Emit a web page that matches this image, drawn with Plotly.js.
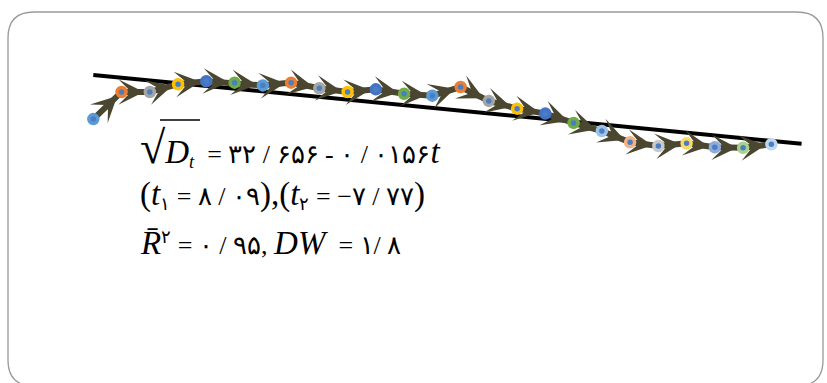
<!DOCTYPE html>
<html>
<head>
<meta charset="utf-8">
<script src="https://cdn.plot.ly/plotly-3.0.1.min.js"></script>
<style>html,body{margin:0;padding:0;background:#fff}#chart{width:827px;height:383px}</style>
</head>
<body>
<div id="chart"></div>
<script>
// time index
var t = [1,2,3,4,5,6,7,8,9,10,11,12,13,14,15,16,17,18,19,20,21,22,23,24,25];
// sqrt(D_t) values
var sqrtD = [32.390,32.544,32.544,32.588,32.605,32.597,32.581,32.597,32.565,32.544,
             32.559,32.534,32.523,32.572,32.493,32.449,32.421,32.368,32.322,32.258,
             32.237,32.252,32.230,32.227,32.247];
// regression: sqrt(D_t) = 32.656 - 0.0156 t
var intercept = 32.656;
var slope = -0.0156;
var lineT = [1, 26.07];
// marker ring colours
var ringColors = ['#5B9BD5','#ED7D31','#A5A5A5','#FFC000','#4472C4','#70AD47',
                  '#5B9BD5','#ED7D31','#A5A5A5','#FFC000','#4472C4','#70AD47',
                  '#5B9BD5','#ED7D31','#A5A5A5','#FFC000','#4472C4','#70AD47',
                  '#9DC3E6','#F4B183','#C9C9C9','#FFD966','#8FAADC','#A9D18E','#BDD7EE'];
// equation texts
var BIG = '<span style="font-size:33px">';
var eqLines = [
  '<span style="font-size:46px">√</span>' + BIG + '<i>D</i></span><sub><i>t</i></sub>  = ۳۲ / ۶۵۶ - ۰ / ۰۱۵۶' + BIG + '<i>t</i></span>',
  BIG + '(<i>t</i></span><sub>۱</sub> = ۸ / ۰۹' + BIG + '),(<i>t</i></span><sub>۲</sub> = −۷ / ۷۷' + BIG + ')</span>',
  BIG + '<i>R̄</i></span><sup>۲</sup> = ۰ / ۹۵, ' + BIG + '<i>DW</i></span>  = ۱/ ۸'
];

var regY = lineT.map(function(x){return intercept + slope*x;});
var olive = '#4A4630';

var traces = [
  {x: lineT, y: regY, mode: 'lines', line: {color: '#000', width: 4}, hoverinfo: 'skip', showlegend: false},
  {x: t, y: sqrtD, mode: 'lines', line: {color: olive, width: 6}, hoverinfo: 'skip', showlegend: false},
  {x: t, y: sqrtD, mode: 'markers', showlegend: false, hoverinfo: 'skip',
   marker: {size: 9, color: '#4A7EC2', line: {color: ringColors, width: 3.5}}}
];

var W = 827, H = 383;
var annotations = [];
for (var i = 1; i < t.length; i++) {
  annotations.push({x: t[i], y: sqrtD[i], ax: t[i-1], ay: sqrtD[i-1], xref: 'x', yref: 'y',
    axref: 'x', ayref: 'y', showarrow: true, arrowhead: 3, arrowsize: 0.85, arrowwidth: 5,
    arrowcolor: olive, standoff: 6, startstandoff: 6, text: ''});
}
var eqY = [147, 195, 243];
eqLines.forEach(function(s, k){
  annotations.push({xref: 'paper', yref: 'paper', x: 138/W, y: 1 - eqY[k]/H, xanchor: 'left', yanchor: 'middle',
    text: s, showarrow: false, font: {family: '"Liberation Serif", "DejaVu Serif", serif', size: 26, color: '#000'}});
});

// rounded frame
var r = 26, L = 8, T = 12, R = 823, B = 386;
function px(x){return (x/W).toFixed(5);} function py(y){return (1-y/H).toFixed(5);}
var framePath = 'M' + px(L) + ',' + py(T+r) + ' Q' + px(L) + ',' + py(T) + ' ' + px(L+r) + ',' + py(T) +
  ' L' + px(R-r) + ',' + py(T) + ' Q' + px(R) + ',' + py(T) + ' ' + px(R) + ',' + py(T+r) +
  ' L' + px(R) + ',' + py(B-r) + ' Q' + px(R) + ',' + py(B) + ' ' + px(R-r) + ',' + py(B) +
  ' L' + px(L+r) + ',' + py(B) + ' Q' + px(L) + ',' + py(B) + ' ' + px(L) + ',' + py(B-r) + ' Z';

var shapes = [
  {type: 'path', xref: 'paper', yref: 'paper', path: framePath, line: {color: '#9a9a9a', width: 1.3}},
  // radical bar
  {type: 'line', xref: 'paper', yref: 'paper', x0: 160/W, x1: 200/W, y0: 1-120/H, y1: 1-120/H, line: {color: '#000', width: 1.5}}
];

var layout = {
  width: W, height: H, margin: {l: 0, r: 0, t: 0, b: 0},
  paper_bgcolor: '#fff', plot_bgcolor: '#fff', showlegend: false,
  xaxis: {visible: false, range: [-2.303, 26.97], fixedrange: true},
  yaxis: {visible: false, range: [30.8904, 33.0665], fixedrange: true},
  annotations: annotations, shapes: shapes
};
Plotly.newPlot('chart', traces, layout, {staticPlot: true});
</script>
</body>
</html>
